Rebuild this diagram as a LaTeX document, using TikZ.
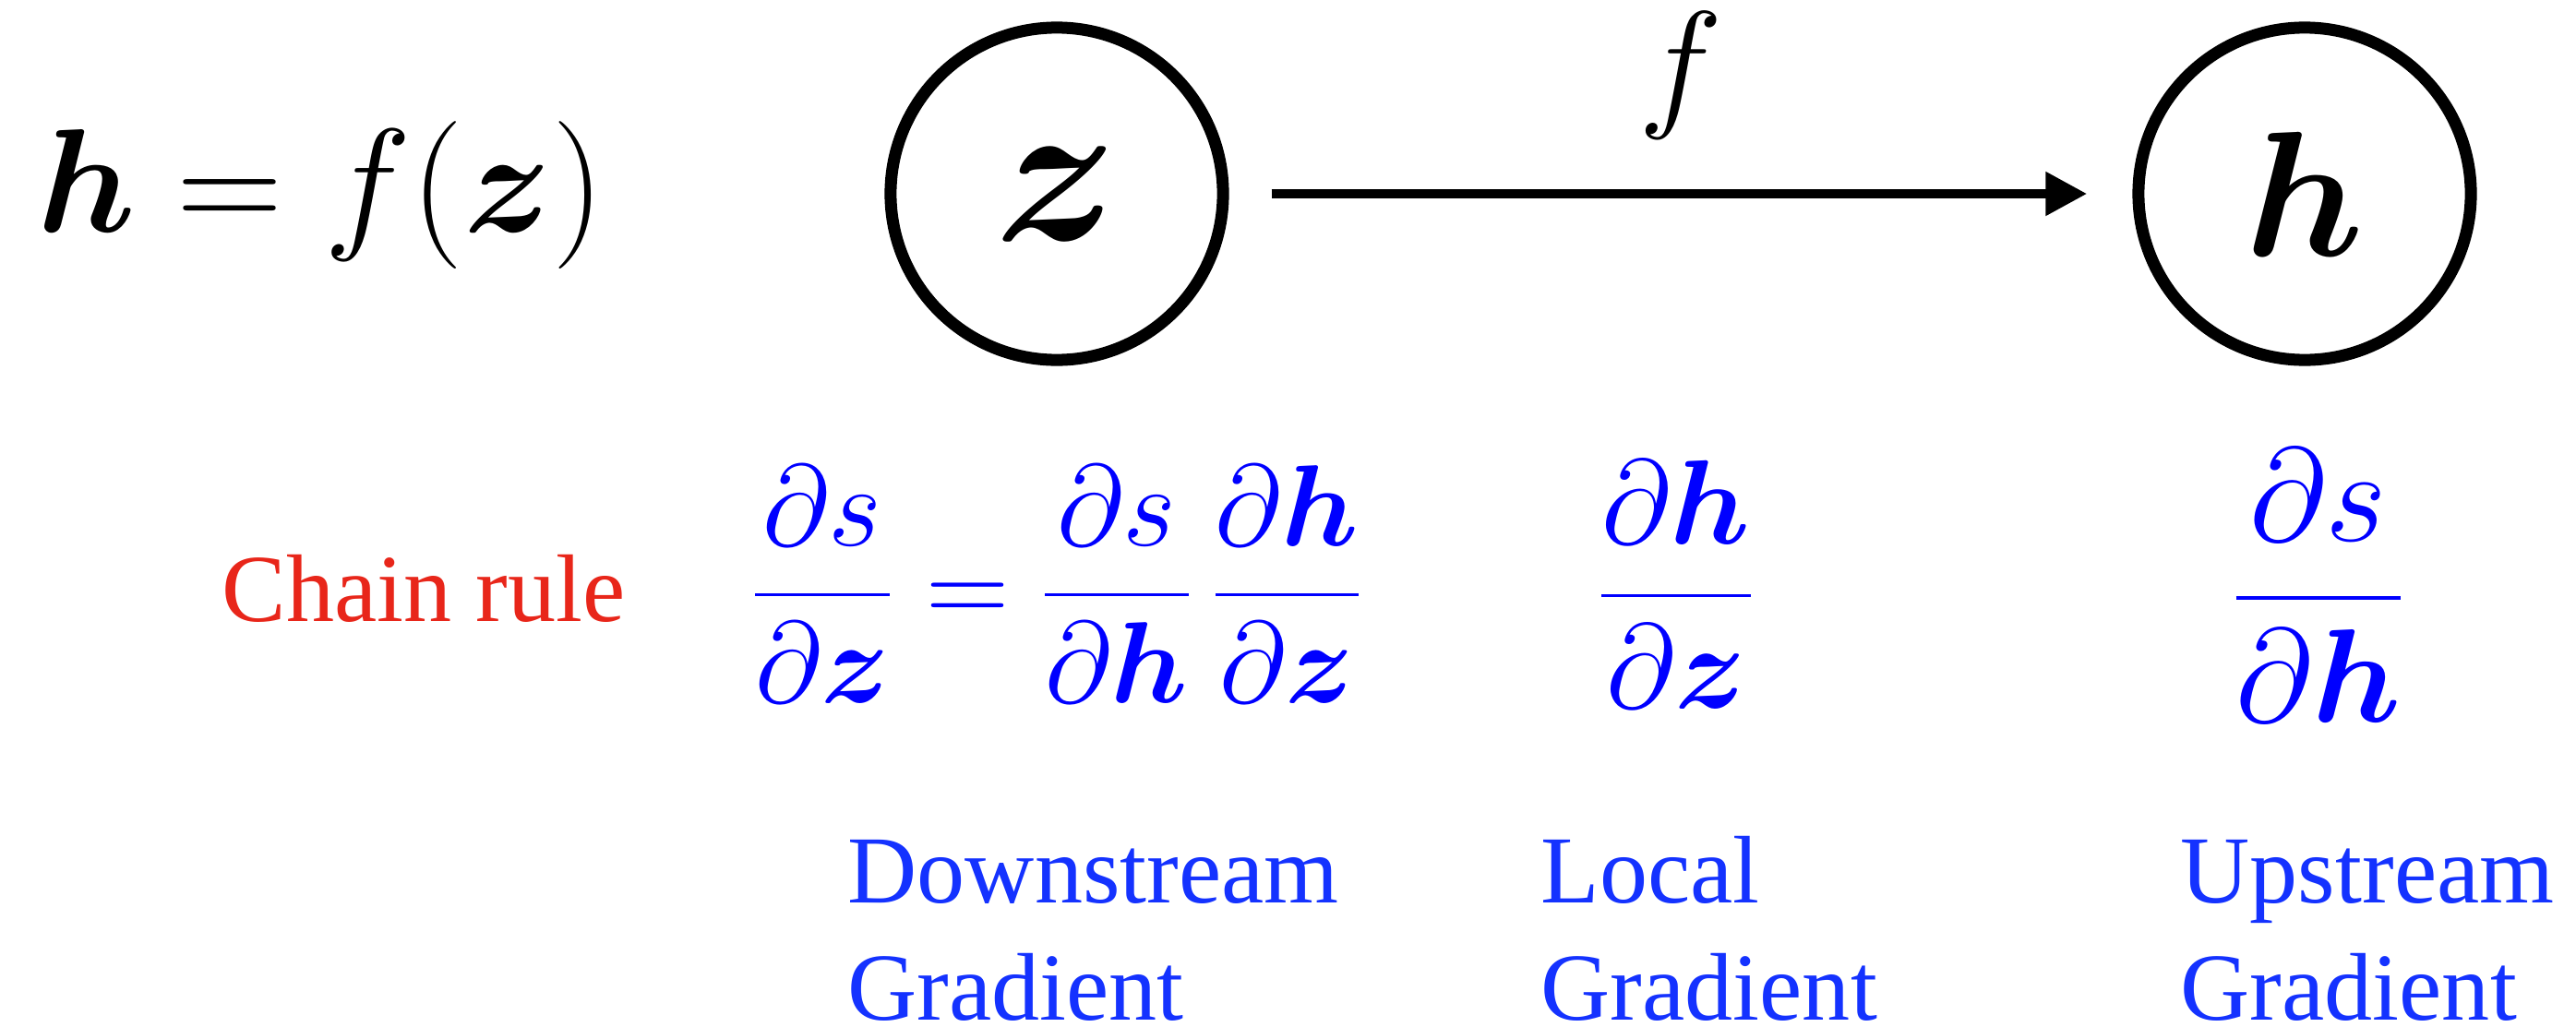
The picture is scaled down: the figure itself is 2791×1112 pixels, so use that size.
\documentclass[tikz,border=0pt]{standalone}
\usepackage{fix-cm}
\usepackage{amsmath}
\usepackage[no-math]{fontspec}
\setmainfont{Liberation Serif}
\usetikzlibrary{arrows.meta}
\definecolor{chainred}{RGB}{232,38,26}
\definecolor{mathblue}{RGB}{0,0,255}
\definecolor{textblue}{RGB}{20,50,255}
\tikzset{
  varnode/.style={circle, draw, line width=3.7pt, minimum size=3.6cm, inner sep=0pt},
  fwdarrow/.style={line width=3.1pt, -{Triangle[length=12.8pt,width=12.8pt]}, shorten <=0.46cm, shorten >=0.49cm},
  gradlabel/.style={textblue, align=left, anchor=base west, inner sep=0pt, font=\fontsize{29.6}{36.1}\selectfont},
  gradmath/.style={mathblue, anchor=base, inner sep=0pt},
}
\begin{document}
\begin{tikzpicture}[x=0.01cm,y=-0.01cm]
\useasboundingbox (0,0) rectangle (2791,1112);
\node[font=\fontsize{45.5}{50}\selectfont, anchor=base west, inner sep=0pt] (eq) at (40,251) {$\boldsymbol{h} = f(\boldsymbol{z})$};
\node[varnode] (z) at (1145,210) {\fontsize{64}{64}\selectfont$\boldsymbol{z}$};
\node[varnode] (h) at (2497,210) {\fontsize{55}{55}\selectfont$\boldsymbol{h}$};
\draw[fwdarrow] (z) -- node[midway, anchor=base, yshift=0.89cm, font=\fontsize{44}{48}\selectfont] (flabel) {$f$} (h);
\node[chainred, font=\fontsize{29.6}{36}\selectfont, anchor=base west, inner sep=0pt] (chain) at (240,673) {Chain rule};
\node[gradmath, font=\fontsize{35.6}{40}\selectfont] (chaineq) at (1145,676) {$\displaystyle \frac{\partial s}{\partial\boldsymbol{z}} = \frac{\partial s}{\partial\boldsymbol{h}}\,\frac{\partial\boldsymbol{h}}{\partial\boldsymbol{z}}$};
\node[gradmath, font=\fontsize{37}{40}\selectfont] (local) at (1816,678) {$\displaystyle\frac{\partial\boldsymbol{h}}{\partial\boldsymbol{z}}$};
\node[gradmath, font=\fontsize{41}{45}\selectfont] (up) at (2512,684) {$\displaystyle\frac{\partial s}{\partial\boldsymbol{h}}$};
\node[gradlabel] (down) at (918,1105) {Downstream\\Gradient};
\node[gradlabel] (loc) at (1669,1105) {Local\\Gradient};
\node[gradlabel] (ups) at (2362,1105) {Upstream\\Gradient};
\end{tikzpicture}
\end{document}
